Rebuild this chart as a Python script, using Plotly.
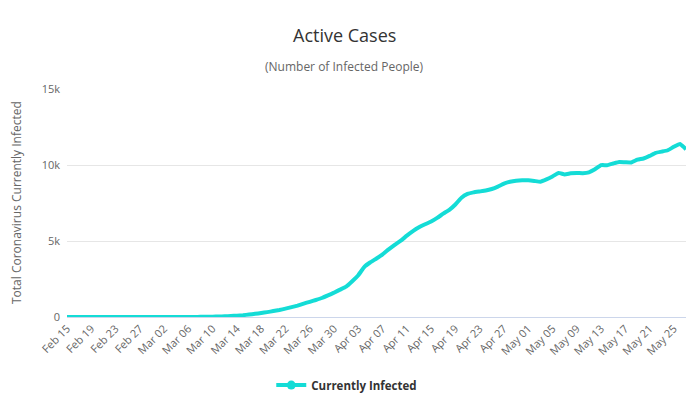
import datetime as dt
import plotly.graph_objects as go

start = dt.date(2020, 2, 15)
n_days = 103
dates = [(start + dt.timedelta(days=i)).strftime("%b %d") for i in range(n_days)]

active = [
    0, 0, 0, 0, 0, 0, 0, 0, 0, 0, 0, 0, 0, 0, 0,   # Feb 15 - Feb 29
    0, 0, 0, 1, 1, 5, 5, 11, 16, 22,               # Mar 01 - Mar 09
    30, 45, 65, 90, 120, 160, 210, 260, 320, 390,  # Mar 10 - Mar 19
    460, 550, 650, 750, 880, 1000, 1120, 1250, 1420, 1600,  # Mar 20 - Mar 29
    1800, 2000, 2350, 2750, 3300, 3600, 3850, 4120, 4450, 4750,  # Mar 30 - Apr 08
    5020, 5350, 5650, 5900, 6100, 6280, 6520, 6800, 7050, 7400,  # Apr 09 - Apr 18
    7850, 8100, 8200, 8260, 8320, 8420, 8580, 8780, 8900, 8970,  # Apr 19 - Apr 28
    9000, 8990, 8950, 8900, 9050, 9250, 9480, 9380, 9450, 9470,  # Apr 29 - May 08
    9460, 9520, 9720, 9990, 9990, 10100, 10200, 10180, 10170, 10350,  # May 09 - May 18
    10430, 10600, 10800, 10880, 10970, 11200, 11380, 11040, 11150,  # May 19 - May 27
]

tick_labels = dates[::4]

title_text = "Active Cases"
subtitle_text = "(Number of Infected People)"
y_title = "Total Coronavirus Currently Infected"
series_name = "Currently Infected"
y_tick_vals = [0, 5000, 10000, 15000]
y_tick_text = ["0", "5k", "10k", "15k"]

color = "#14DCD6"
font_family = "Open Sans, DejaVu Sans, sans-serif"

fig = go.Figure()
fig.add_trace(go.Scatter(
    x=dates, y=active, mode="lines", name=series_name,
    line=dict(color=color, width=4, shape="spline", smoothing=0.3),
    showlegend=False, cliponaxis=False,
))
fig.add_trace(go.Scatter(
    x=[None], y=[None], mode="lines+markers", name="<b>" + series_name + "</b>",
    line=dict(color=color, width=4),
    marker=dict(color=color, size=9),
))

fig.update_layout(
    width=699, height=410,
    margin=dict(l=59, r=21, t=81, b=101, autoexpand=False),
    paper_bgcolor="white", plot_bgcolor="white",
    font=dict(family=font_family, color="#666666", size=11),
    showlegend=True,
    legend=dict(orientation="h", x=0.33, xanchor="left", y=-0.235, yanchor="top",
                font=dict(size=11.5, color="#333333", family=font_family),
                itemwidth=30),
    annotations=[
        dict(text=title_text, xref="paper", yref="paper", x=0.4475, y=1,
             xanchor="center", yanchor="bottom", yshift=40, showarrow=False,
             font=dict(size=18, color="#333333", family=font_family)),
        dict(text=subtitle_text, xref="paper", yref="paper", x=0.4475, y=1,
             xanchor="center", yanchor="bottom", yshift=12, showarrow=False,
             font=dict(size=12, color="#666666", family=font_family)),
        dict(text=y_title, xref="paper", yref="paper", x=0, y=0.5,
             xanchor="center", yanchor="middle", xshift=-51, textangle=-90,
             showarrow=False, font=dict(size=12, color="#666666", family=font_family)),
    ],
)

fig.update_xaxes(
    type="category", range=[0, n_days - 1], automargin=False,
    tickmode="array", tickvals=tick_labels, ticktext=tick_labels,
    tickangle=-45, showgrid=False, showline=True, linecolor="#ccd6eb",
    linewidth=1, ticks="", tickfont=dict(size=11, color="#666666"),
)
fig.update_yaxes(
    range=[0, 15000], tickvals=y_tick_vals, ticktext=y_tick_text, automargin=False,
    showgrid=True, gridcolor="#e6e6e6", zeroline=False, showline=False,
    tickfont=dict(size=11, color="#666666"), ticklabelstandoff=6,
)

fig.write_html("out.html")
